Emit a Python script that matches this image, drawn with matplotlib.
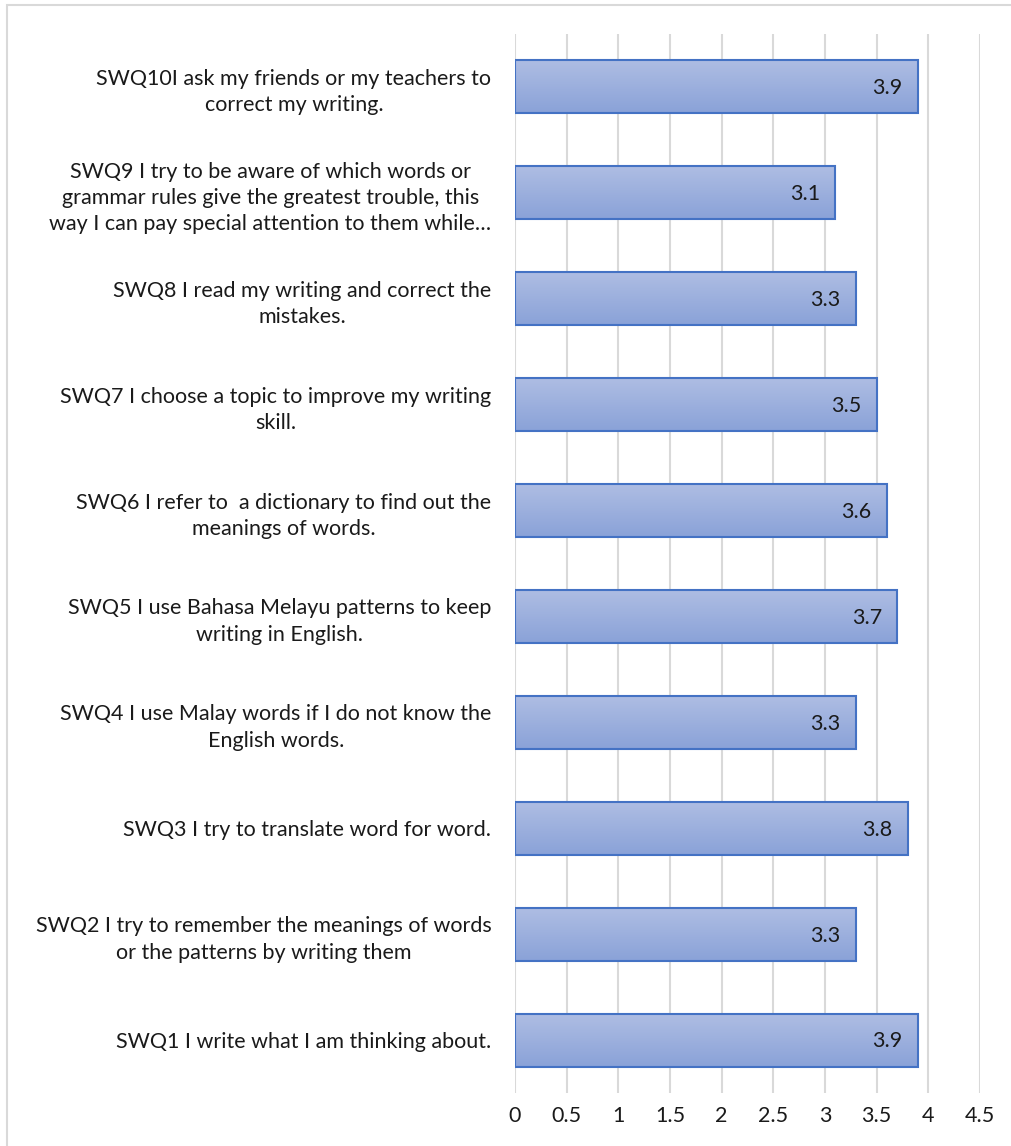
import numpy as np
import matplotlib
matplotlib.use("Agg")
import matplotlib.pyplot as plt
from matplotlib.colors import LinearSegmentedColormap
from matplotlib.patches import Rectangle

# bottom to top, as drawn on the axis
labels = [
    "SWQ1 I write what I am thinking about.",
    "SWQ2 I try to remember the meanings of words\nor the patterns by writing them",
    "SWQ3 I try to translate word for word.",
    "SWQ4 I use Malay words if I do not know the\nEnglish words.",
    "SWQ5 I use Bahasa Melayu patterns to keep\nwriting in English.",
    "SWQ6 I refer to  a dictionary to find out the\nmeanings of words.",
    "SWQ7 I choose a topic to improve my writing\nskill.",
    "SWQ8 I read my writing and correct the\nmistakes.",
    "SWQ9 I try to be aware of which words or\ngrammar rules give the greatest trouble, this\nway I can pay special attention to them while\u2026",
    "SWQ10I ask my friends or my teachers to\ncorrect my writing.",
]
values = [3.9, 3.3, 3.8, 3.3, 3.7, 3.6, 3.5, 3.3, 3.1, 3.9]
xticks = [0, 0.5, 1, 1.5, 2, 2.5, 3, 3.5, 4, 4.5]
xtick_labels = ["0", "0.5", "1", "1.5", "2", "2.5", "3", "3.5", "4", "4.5"]

plt.rcParams["font.family"] = ["Lato", "DejaVu Sans"]

W, H = 1011, 1146
fig = plt.figure(figsize=(W / 100, H / 100), dpi=100)

# light chart border (left and top edges only visible)
fig.patches.append(Rectangle((7 / W, -0.1), 1.2, 1 - 5 / H + 0.1, transform=fig.transFigure,
                             fill=False, edgecolor="#d9d9d9", lw=1.5))

ax = fig.add_axes([515 / W, (H - 1093) / H, 465 / W, 1059 / H])

y = np.arange(len(values))
bars = ax.barh(y, values, height=0.5, color="none", edgecolor="#4472c4", lw=1.5, zorder=3)

cmap = LinearSegmentedColormap.from_list("bar", ["#8aa2d8", "#aebde3"])
grad = np.linspace(0, 1, 64).reshape(-1, 1)
for b in bars:
    x0, y0 = b.get_x(), b.get_y()
    im = ax.imshow(grad, cmap=cmap, origin="lower", aspect="auto",
                   extent=[x0, x0 + b.get_width(), y0, y0 + b.get_height()], zorder=2)
    im.set_clip_path(b)

for yi, v in zip(y, values):
    ax.annotate(f"{v:.1f}", (v, yi), textcoords="offset points", xytext=(-11, -1),
                ha="right", va="center", fontsize=15.5, color="#1a1a1a", zorder=4)

ax.set_xlim(0, 4.5)
ax.set_ylim(-0.5, len(values) - 0.5)
ax.set_xticks(xticks)
ax.set_xticklabels(xtick_labels, fontsize=15.5)
ax.set_yticks(y)
ax.set_yticklabels(labels, fontsize=15.5, multialignment="center", linespacing=1.4)
ax.tick_params(axis="both", length=0, colors="#1a1a1a")
ax.tick_params(axis="x", pad=9)
ax.tick_params(axis="y", pad=17)
ax.grid(axis="x", color="#d9d9d9", lw=1.5, zorder=0)
for s in ax.spines.values():
    s.set_visible(False)
ax.set_facecolor("none")

fig.savefig("out.png", dpi=100)
